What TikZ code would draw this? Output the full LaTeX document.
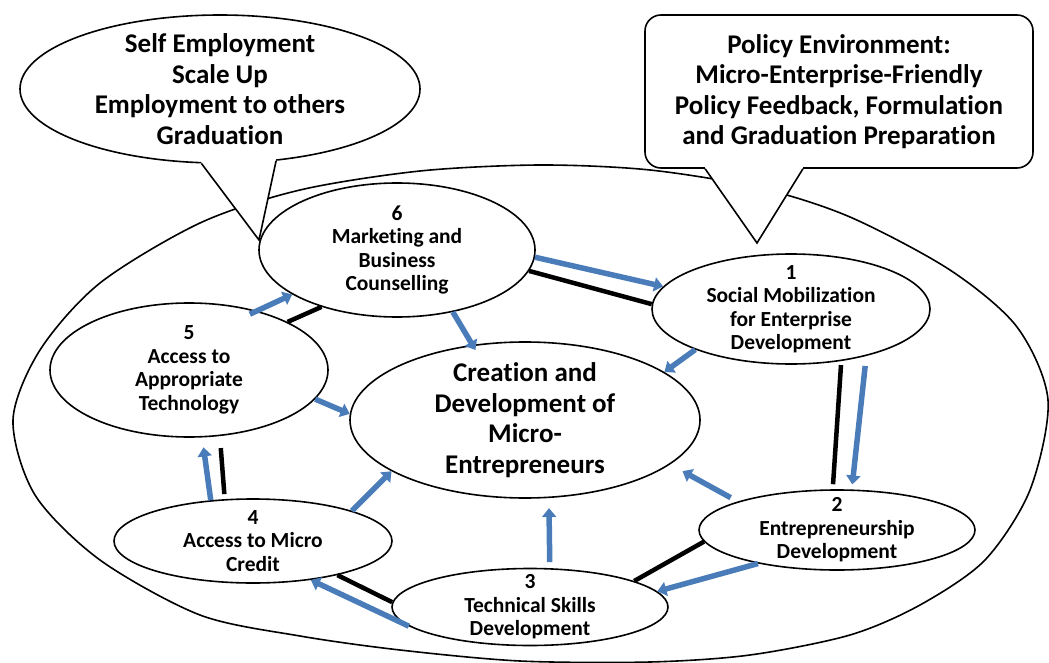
\documentclass[tikz,border=0pt]{standalone}
\usepackage{fontspec}
\setmainfont{Carlito}[Ligatures=NoCommon]
\usetikzlibrary{arrows.meta,shapes.geometric}
\definecolor{flowblue}{RGB}{74,124,186}

\begin{document}
\begin{tikzpicture}[x=1pt,y=-1pt,
    stage/.style={ellipse,draw,line width=1.6pt,fill=white,inner sep=-12pt,align=center,
      font=\bfseries\fontsize{21.5}{23.5}\selectfont},
    bubble/.style={draw,line width=1.6pt,fill=white,inner sep=-12pt,align=center,
      font=\bfseries\fontsize{27}{30.5}\selectfont},
    flow/.style={draw=flowblue,line width=5.5pt,-{Triangle[length=9pt,width=14pt]}},
    link/.style={draw=black,line width=4.5pt}]
    \useasboundingbox (0,0) rectangle (1049,663);
    % outer ring
    \draw[line width=1.6pt] plot[smooth cycle] coordinates {(13,420) (40,350) (100,283) (200,223)
      (300,190) (420,171) (540,165) (650,170) (760,188) (850,217) (950,270) (1017,327) (1048,400)
      (1030,490) (985,560) (920,605) (850,635) (750,655) (650,662) (520,661) (400,650) (300,636)
      (200,615) (100,560) (35,495)};
    % stages
    \node[stage,minimum width=350pt,minimum height=156pt,font=\bfseries\fontsize{27}{30.5}\selectfont]
      (core) at (525,420) {Creation and\\Development of\\Micro-\\Entrepreneurs};
    \node[stage,minimum width=278pt,minimum height=110pt] (n1) at (791,309) {1\\Social Mobilization\\for Enterprise\\Development};
    \node[stage,minimum width=276pt,minimum height=80pt] (n2) at (837,530) {2\\Entrepreneurship\\Development};
    \node[stage,minimum width=276pt,minimum height=77pt] (n3) at (530,607) {3\\Technical Skills\\Development};
    \node[stage,minimum width=278pt,minimum height=84pt] (n4) at (253,541) {4\\Access to Micro\\Credit};
    \node[stage,minimum width=278pt,minimum height=134pt] (n5) at (189,370) {5\\Access to\\Appropriate\\Technology};
    \node[stage,minimum width=276pt,minimum height=134pt] (n6) at (397,250) {6\\Marketing and\\Business\\Counselling};
    % callouts
    \node[bubble,ellipse,minimum width=400pt,minimum height=148pt] (goals) at (220,89)
      {Self Employment\\Scale Up\\Employment to others\\Graduation};
    \coordinate (goalstip) at (259,240);
    \fill[white] (goals.-104) -- (goalstip) -- (goals.-52) -- ([yshift=6pt]goals.-52) -- ([yshift=6pt]goals.-104) -- cycle;
    \draw[line width=1.6pt] (goals.-104) -- (goalstip) -- (goals.-52);
    \node[bubble,rounded corners=16pt,minimum width=388pt,minimum height=153pt] (policy) at (839,91.5)
      {Policy Environment:\\Micro-Enterprise-Friendly\\Policy Feedback, Formulation\\and Graduation Preparation};
    \coordinate (policytip) at (757,243);
    \fill[white] (policy.-150) -- (policytip) -- (policy.-115) -- ([yshift=6pt]policy.-115) -- ([yshift=6pt]policy.-150) -- cycle;
    \draw[line width=1.6pt] (policy.-150) -- (policytip) -- (policy.-115);
    % black links
    \foreach \a/\b/\s/\e in {n6.-9/n1.178/0/0, n1.-46/n2.96/4/5, n2.185/n3.14/0/0,
      n3.178/n4.-22/0/0, n4.124/n5.-65/5/12, n5.26/n6.217/0/0}
      \draw[link,shorten <=\s pt,shorten >=\e pt] (\a) -- (\b);
    % blue flows
    \foreach \a/\b/\s/\e in {n6.-3/n1.170/0/0, n1.203/core.19/0/0, n1.-32/n2.70/10/5,
      n2.164/core.-17/8/14, n2.203/n3.7/0/0, n3.63/core.-73/6/10, n3.189/n4.-34/0/0,
      n4.17/core.201/0/0, n4.136/n5.-79/0/10, n5.-13/core.178/0/0, n5.41/n6.203/-8/0,
      n6.-48/core.125/0/-6}
      \draw[flow,shorten <=\s pt,shorten >=\e pt] (\a) -- (\b);
\end{tikzpicture}
\end{document}
